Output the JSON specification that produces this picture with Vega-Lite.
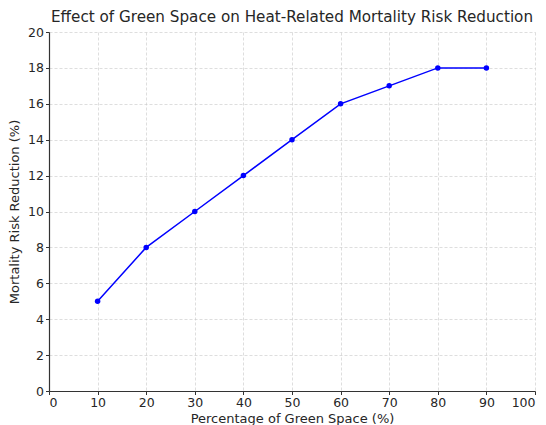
{
  "$schema": "https://vega.github.io/schema/vega-lite/v6.json",
  "width": 486,
  "height": 359,
  "autosize": {"type": "none"},
  "padding": {"left": 49, "top": 32, "right": 11, "bottom": 34},
  "background": "white",
  "config": {
    "font": "DejaVu Sans",
    "view": {"stroke": null},
    "axis": {
      "labelFont": "DejaVu Sans",
      "titleFont": "DejaVu Sans",
      "labelFontSize": 12.5,
      "titleFontSize": 13,
      "labelColor": "#262626",
      "titleColor": "#262626",
      "titleFontWeight": "normal",
      "domainColor": "#333",
      "domainWidth": 1.2,
      "tickColor": "#333",
      "tickSize": 3.5,
      "labelPadding": 2,
      "gridColor": "#c8c8c8",
      "gridDash": [3, 2],
      "gridWidth": 0.6
    }
  },
  "title": {
    "text": "Effect of Green Space on Heat-Related Mortality Risk Reduction",
    "font": "DejaVu Sans",
    "fontSize": 15.2,
    "fontWeight": "normal",
    "color": "#262626",
    "anchor": "middle",
    "offset": 1
  },
  "data": {
    "values": [
      {"green": 10, "reduction": 5},
      {"green": 20, "reduction": 8},
      {"green": 30, "reduction": 10},
      {"green": 40, "reduction": 12},
      {"green": 50, "reduction": 14},
      {"green": 60, "reduction": 16},
      {"green": 70, "reduction": 17},
      {"green": 80, "reduction": 18},
      {"green": 90, "reduction": 18}
    ]
  },
  "encoding": {
    "x": {"field": "green", "type": "quantitative", "scale": {"domain": [0, 100]}, "axis": {"title": "Percentage of Green Space (%)", "values": [0,10,20,30,40,50,60,70,80,90,100], "labelOverlap": false, "titlePadding": 3}},
    "y": {"field": "reduction", "type": "quantitative", "scale": {"domain": [0, 20]}, "axis": {"title": "Mortality Risk Reduction (%)", "values": [0,2,4,6,8,10,12,14,16,18,20], "labelOverlap": false, "titlePadding": 6}}
  },
  "layer": [
    {
      "mark": {"type": "line", "color": "blue", "strokeWidth": 1.5}
    },
    {
      "mark": {"type": "point", "filled": true, "color": "blue", "size": 30, "opacity": 1}
    }
  ]
}
